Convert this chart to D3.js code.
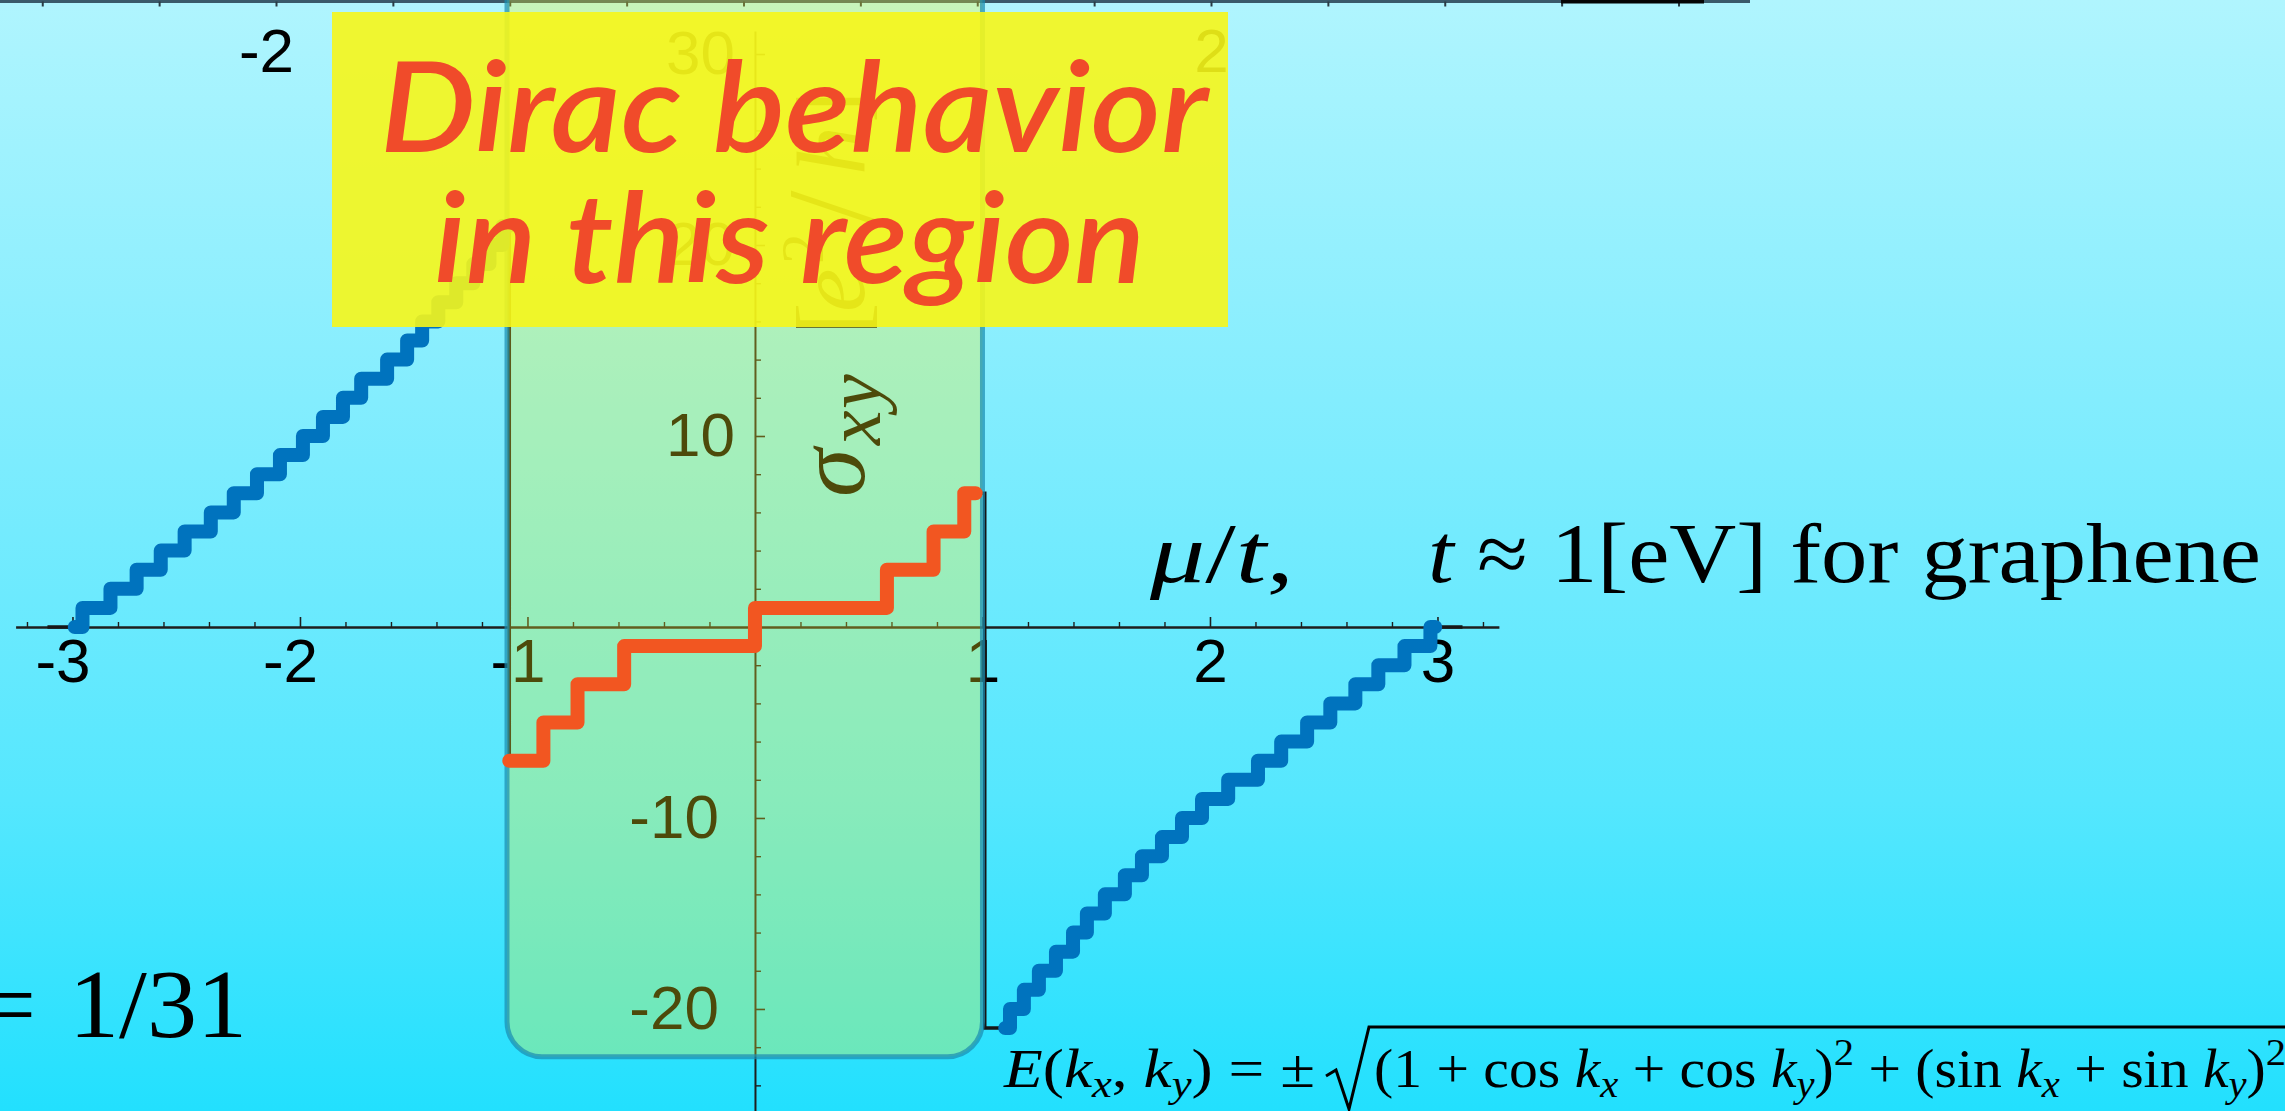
<!DOCTYPE html>
<html>
<head>
<meta charset="utf-8">
<script src="https://cdn.jsdelivr.net/npm/d3@7"></script>
<style>
  html, body { margin: 0; padding: 0; overflow: hidden; background: #7feafe; }
  svg { display: block; }
</style>
</head>
<body>
<svg id="chart" width="2285" height="1111"></svg>
<script>
// ---- tick labels ----
const xTickValues = [-3, -2, -1, 1, 2, 3];
const yTickValues = [-20, -10, 10, 20, 30];
const topTickLabels = [-2, 2];

// ---- Dirac (continuum) quantum Hall steps, sigma_xy in e^2/h ----
const diracEdges  = [-1.08, -0.93, -0.78, -0.575, 0, 0.58, 0.785, 0.92, 0.97];
const diracLevels = [-7, -5, -3, -1, 1, 3, 5, 7];

// ---- lattice Hall plateaus, lower band: mu where sigma_xy rises by one (0 -> 21) ----
const lowerBandStart = -2.99;
const lowerBandRisers = [-2.956, -2.833, -2.718, -2.612, -2.507, -2.392, -2.291, -2.189,
  -2.088, -1.987, -1.899, -1.811, -1.731, -1.617, -1.529, -1.463, -1.392, -1.313,
  -1.238, -1.167, -1.110];
const lowerBandEnd = -1.08;

// ---- lattice Hall plateaus, upper band: mu where sigma_xy rises by one (-21 -> 0) ----
const upperBandStart = 1.10;
const upperBandRisers = [1.121, 1.182, 1.248, 1.323, 1.398, 1.459, 1.538, 1.626, 1.701,
  1.789, 1.877, 1.965, 2.080, 2.211, 2.313, 2.427, 2.529, 2.639, 2.740, 2.855, 2.969];
const upperBandEnd = 2.99;

// ---- full lattice curve: tails at the band edges and van Hove jumps ----
const bandTails = [-3.11, 3.11];
const vanHoveJumps = [-1.08, 1.01];

// ---- shaded window where the Dirac picture holds ----
const diracWindow = [-1.09, 1.0];
const windowFloor = -22.5;

const W = 2285, H = 1111;
const svg = d3.select('#chart');
const defs = svg.append('defs');

// background
const bg = defs.append('linearGradient').attr('id', 'bg').attr('x1', 0).attr('y1', 0).attr('x2', 0).attr('y2', 1);
[[0, '#b0f5fe'], [0.36, '#83edfe'], [0.72, '#55e7fe'], [1, '#22e0fe']].forEach(([o, c]) =>
  bg.append('stop').attr('offset', o).attr('stop-color', c));
svg.append('rect').attr('width', W).attr('height', H).attr('fill', 'url(#bg)');

// scales
const x = d3.scaleLinear().domain([-3.25, 3.27]).range([15.6, 1498.9]);
const y = d3.scaleLinear().domain([-25.4, 31.2]).range([1112.1, 31.1]);
const topX = d3.scaleLinear().domain([-2, 2]).range([276, 1211]);

const sans = 'Liberation Sans, Arial, sans-serif';
const serif = 'Liberation Serif, Times New Roman, serif';

// ---- axis of the panel above (cut at the top edge) ----
const topG = svg.append('g');
topG.append('line')
  .attr('x1', topX(topX.invert(0))).attr('x2', topX(topX.invert(1750)))
  .attr('y1', 1.5).attr('y2', 1.5)
  .attr('stroke', '#3a5a6a').attr('stroke-width', 3);
const topMinor = d3.range(-3, 4.51, 0.5).filter(v => topX(v) > 0 && topX(v) < 1750);
topG.append('g').attr('transform', 'translate(0,1.5)')
  .call(d3.axisBottom(topX).tickValues(topMinor).tickSize(5).tickSizeOuter(0).tickFormat(''))
  .call(g => g.select('.domain').remove())
  .call(g => g.selectAll('line').attr('stroke', '#2a3c44').attr('stroke-width', 2));
topG.append('g').attr('transform', 'translate(0,1.5)')
  .call(d3.axisBottom(topX).tickValues(topTickLabels).tickSize(0).tickPadding(26).tickFormat(d => String(d)))
  .call(g => g.select('.domain').remove())
  .call(g => g.selectAll('text').attr('font-family', sans).attr('font-size', 62).attr('fill', '#000')
    .attr('dx', d => d < 0 ? -10 : 0));
topG.append('rect').attr('x', 1561).attr('y', 0).attr('width', 143).attr('height', 3.5).attr('fill', '#050505');

// ---- main axes ----
const axisColor = '#1e1e1e';
const xAxisG = svg.append('g').attr('transform', `translate(0,${y(0)})`);
xAxisG.call(d3.axisBottom(x).tickValues(xTickValues).tickSizeInner(-10).tickSizeOuter(0).tickPadding(11)
    .tickFormat(d => String(d)))
  .call(g => g.select('.domain').attr('stroke', axisColor).attr('stroke-width', 2.5))
  .call(g => g.selectAll('.tick line').attr('stroke', axisColor).attr('stroke-width', 1.6))
  .call(g => g.selectAll('text').attr('font-family', sans).attr('font-size', 62).attr('fill', '#000')
    .attr('dx', d => d < 0 ? -10 : 0));
const xMinor = d3.range(-16, 17).map(i => i * 0.2).filter(v => Math.abs(v - Math.round(v)) > 1e-6);
svg.append('g').attr('transform', `translate(0,${y(0)})`)
  .call(d3.axisBottom(x).tickValues(xMinor).tickSizeInner(-5).tickSizeOuter(0).tickFormat(''))
  .call(g => g.select('.domain').remove())
  .call(g => g.selectAll('line').attr('stroke', axisColor).attr('stroke-width', 1.4));

const yAxisG = svg.append('g').attr('transform', `translate(${x(0)},0)`);
yAxisG.call(d3.axisLeft(y).tickValues(yTickValues).tickSizeInner(-10).tickSizeOuter(0).tickPadding(20)
    .tickFormat(d => String(d)))
  .call(g => g.select('.domain').attr('stroke', axisColor).attr('stroke-width', 2))
  .call(g => g.selectAll('.tick line').attr('stroke', axisColor).attr('stroke-width', 1.6))
  .call(g => g.selectAll('text').attr('font-family', sans).attr('font-size', 62).attr('fill', '#000')
    .attr('dx', d => d < 0 ? -16 : 0));
const yMinor = d3.range(-24, 31, 2).filter(v => v % 10 !== 0);
svg.append('g').attr('transform', `translate(${x(0)},0)`)
  .call(d3.axisLeft(y).tickValues(yMinor).tickSizeInner(-6).tickSizeOuter(0).tickFormat(''))
  .call(g => g.select('.domain').remove())
  .call(g => g.selectAll('line').attr('stroke', axisColor).attr('stroke-width', 1.4));

// y-axis title, set piece by piece along the rotated baseline
const yTitle = svg.append('g').attr('transform', 'translate(864,497) rotate(-90)')
  .attr('font-family', serif).attr('fill', '#000');
[
  // [glyphs, offset along baseline, baseline shift, size, italic]
  ['σ', 0, 0, 98, true],
  ['x', 52, 16, 78, true],
  ['y', 88, 16, 78, true],
  ['[', 162, 0, 98, false],
  ['e', 185, 0, 98, true],
  ['2', 233, -41, 62, false],
  ['/', 272, 10, 124, false],
  ['h', 322, 0, 98, true],
  [']', 374, 0, 98, false]
].forEach(([t, u, v, size, it]) =>
  yTitle.append('text').attr('x', u).attr('y', v).attr('font-size', size)
    .attr('font-style', it ? 'italic' : 'normal').text(t));

// ---- series ----
const stepLine = d3.line().x(d => x(d[0])).y(d => y(d[1])).curve(d3.curveStepAfter);

const lowerBand = [[lowerBandStart, 0], ...lowerBandRisers.map((r, i) => [r, i + 1]),
  [lowerBandEnd, lowerBandRisers.length]];
const upperBand = [[upperBandStart, -upperBandRisers.length],
  ...upperBandRisers.map((r, i) => [r, i + 1 - upperBandRisers.length]), [upperBandEnd, 0]];
const diracSteps = [...diracEdges.slice(0, -1).map((e, i) => [e, diracLevels[i]]),
  [diracEdges[diracEdges.length - 1], diracLevels[diracLevels.length - 1]]];

const lattice = [
  [bandTails[0], 0],
  ...lowerBand,
  [vanHoveJumps[0], diracLevels[0]],
  ...diracSteps,
  [vanHoveJumps[1], diracLevels[diracLevels.length - 1]],
  [vanHoveJumps[1], -upperBandRisers.length],
  ...upperBand,
  [bandTails[1], 0]
];

svg.append('path').datum(lattice).attr('d', stepLine)
  .attr('fill', 'none').attr('stroke', '#161616').attr('stroke-width', 3.5);

// shaded window (translucent yellow over the cyan ground)
const wx0 = x(diracWindow[0]), wx1 = x(diracWindow[1]);
svg.append('rect')
  .attr('x', wx0).attr('y', -60).attr('width', wx1 - wx0).attr('height', y(windowFloor) + 60)
  .attr('rx', 35).attr('ry', 35)
  .attr('fill', '#fff620').attr('fill-opacity', 0.3)
  .attr('stroke', '#1c8db2').attr('stroke-opacity', 0.72).attr('stroke-width', 5);

svg.append('path').datum(diracSteps).attr('d', stepLine)
  .attr('fill', 'none').attr('stroke', '#f25621').attr('stroke-width', 14)
  .attr('stroke-linecap', 'round').attr('stroke-linejoin', 'round');

[lowerBand, upperBand].forEach(band =>
  svg.append('path').datum(band).attr('d', stepLine)
    .attr('fill', 'none').attr('stroke', '#0073be').attr('stroke-width', 14)
    .attr('stroke-linecap', 'round').attr('stroke-linejoin', 'round'));

// ---- callout ----
const note = svg.append('g');
note.append('rect').attr('x', 332).attr('y', 12).attr('width', 896).attr('height', 315)
  .attr('fill', '#f6f61a').attr('fill-opacity', 0.9);
const noteFont = 'Lato, Open Sans, sans-serif';
note.append('text').attr('x', 380).attr('y', 152)
  .attr('font-family', noteFont).attr('font-style', 'italic').attr('font-weight', 600)
  .attr('font-size', 126).attr('fill', '#f04b2a')
  .attr('textLength', 828).attr('lengthAdjust', 'spacingAndGlyphs')
  .text('Dirac behavior');
note.append('text').attr('x', 434).attr('y', 283)
  .attr('font-family', noteFont).attr('font-style', 'italic').attr('font-weight', 600)
  .attr('font-size', 126).attr('fill', '#f04b2a')
  .attr('textLength', 711).attr('lengthAdjust', 'spacingAndGlyphs')
  .text('in this region');

// ---- x-axis caption ----
const mu = svg.append('text').attr('x', 1150).attr('y', 582)
  .attr('font-family', serif).attr('font-size', 84).attr('fill', '#000')
  .attr('textLength', 144).attr('lengthAdjust', 'spacingAndGlyphs');
mu.append('tspan').attr('font-style', 'italic').text('μ');
mu.append('tspan').text('/');
mu.append('tspan').attr('font-style', 'italic').text('t');
mu.append('tspan').text(',');

const tcap = svg.append('text').attr('x', 1428).attr('y', 582)
  .attr('font-family', serif).attr('font-size', 84).attr('fill', '#000')
  .attr('textLength', 833).attr('lengthAdjust', 'spacingAndGlyphs');
tcap.append('tspan').attr('font-style', 'italic').text('t');
tcap.append('tspan').text(' ≈ 1[eV] for graphene');

// ---- flux per plaquette ----
svg.append('text').attr('x', 36).attr('y', 1037).attr('text-anchor', 'end')
  .attr('font-family', serif).attr('font-size', 98).attr('fill', '#000').text('=');
svg.append('text').attr('x', 69).attr('y', 1037)
  .attr('font-family', serif).attr('font-size', 98).attr('fill', '#000')
  .attr('textLength', 178).attr('lengthAdjust', 'spacingAndGlyphs').text('1/31');

// ---- dispersion formula ----
const f1 = svg.append('text').attr('x', 1004).attr('y', 1087)
  .attr('font-family', serif).attr('font-size', 54).attr('fill', '#000')
  .attr('textLength', 311).attr('lengthAdjust', 'spacingAndGlyphs');
f1.append('tspan').attr('font-style', 'italic').text('E');
f1.append('tspan').text('(');
f1.append('tspan').attr('font-style', 'italic').text('k');
f1.append('tspan').attr('font-style', 'italic').attr('font-size', 38).attr('dy', 10).text('x');
f1.append('tspan').attr('dy', -10).text(', ');
f1.append('tspan').attr('font-style', 'italic').text('k');
f1.append('tspan').attr('font-style', 'italic').attr('font-size', 38).attr('dy', 10).text('y');
f1.append('tspan').attr('dy', -10).text(') = ±');

svg.append('path')
  .attr('d', 'M1326,1076 L1336,1070 L1349,1109 L1369,1027 L2290,1027')
  .attr('fill', 'none').attr('stroke', '#000').attr('stroke-width', 3)
  .attr('stroke-linejoin', 'miter');

const f2 = svg.append('text').attr('x', 1374).attr('y', 1087)
  .attr('font-family', serif).attr('font-size', 54).attr('fill', '#000')
  .attr('textLength', 912).attr('lengthAdjust', 'spacingAndGlyphs');
const radicand = [
  ['(1 + cos ', 0, null], ['k', 0, 'i'], ['x', 10, 's'], [' + cos ', -10, null], ['k', 0, 'i'], ['y', 10, 's'],
  [')', -10, null], ['2', -22, 'p'], [' + (sin ', 22, null], ['k', 0, 'i'], ['x', 10, 's'],
  [' + sin ', -10, null], ['k', 0, 'i'], ['y', 10, 's'], [')', -10, null], ['2', -22, 'p']
];
radicand.forEach(([t, dy, kind]) => {
  const s = f2.append('tspan').attr('dy', dy).text(t);
  if (kind === 'i' || kind === 's') s.attr('font-style', 'italic');
  if (kind === 's' || kind === 'p') s.attr('font-size', 38);
});
</script>
</body>
</html>
